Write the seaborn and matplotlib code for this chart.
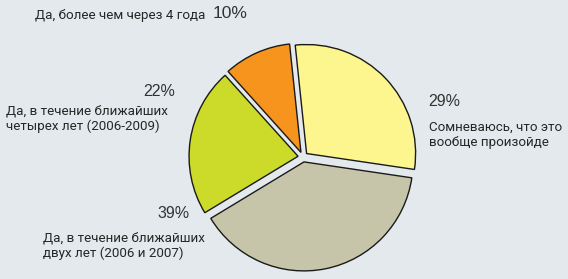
import matplotlib
matplotlib.use("Agg")
import matplotlib.pyplot as plt
import seaborn as sns

# Data (clockwise from top)
categories = [
    "Сомневаюсь, что это\nвообще произойде",
    "Да, в течение ближайших\nдвух лет (2006 и 2007)",
    "Да, в течение ближайших\nчетырех лет (2006-2009)",
    "Да, более чем через 4 года",
]
values = [29, 39, 22, 10]
pct_labels = ["29%", "39%", "22%", "10%"]
colors = ["#fdf68f", "#c7c5a9", "#ccdb2a", "#f7941e"]

sns.set_theme(style="white")
BG = "#e3e9ec"
W, H = 568, 279
fig = plt.figure(figsize=(W / 100, H / 100), dpi=100, facecolor=BG)
ax = fig.add_axes([0, 0, 1, 1])
ax.set_facecolor(BG)

cx, cy, r = 303, H - 157, 109
ax.pie(values, colors=colors, startangle=96, counterclock=False,
       center=(cx, cy), radius=r, explode=[5] * len(values),
       wedgeprops=dict(edgecolor="#1a1a1a", linewidth=1.0), frame=True)
ax.set_xlim(0, W)
ax.set_ylim(0, H)
ax.set_aspect("equal")
ax.axis("off")

label_font = ["Roboto", "DejaVu Sans"]
pct_font = ["Liberation Sans", "DejaVu Sans"]
tc = "#262626"
pc = "#333333"
fs = 9.6

def ty(y):
    return H - y

# right: 29%
ax.text(428, ty(101), pct_labels[0], family=pct_font, fontsize=11.5, color=pc, va="center", ha="left")
ax.text(429, ty(135), categories[0], family=label_font, fontsize=fs, color=tc, va="center", ha="left", linespacing=1.2)
# bottom: 39%
ax.text(190, ty(214), pct_labels[1], family=pct_font, fontsize=11.5, color=pc, va="center", ha="right")
ax.text(43, ty(246), categories[1], family=label_font, fontsize=fs, color=tc, va="center", ha="left", linespacing=1.2)
# left: 22%
ax.text(175, ty(91), pct_labels[2], family=pct_font, fontsize=11.5, color=pc, va="center", ha="right")
ax.text(6, ty(119), categories[2], family=label_font, fontsize=fs, color=tc, va="center", ha="left", linespacing=1.2)
# top: 10%
ax.text(35, ty(15), categories[3], family=label_font, fontsize=fs, color=tc, va="center", ha="left")
ax.text(248, ty(13), pct_labels[3], family=pct_font, fontsize=12.5, color=pc, va="center", ha="right")

fig.savefig("out.png", dpi=100, facecolor=BG)
